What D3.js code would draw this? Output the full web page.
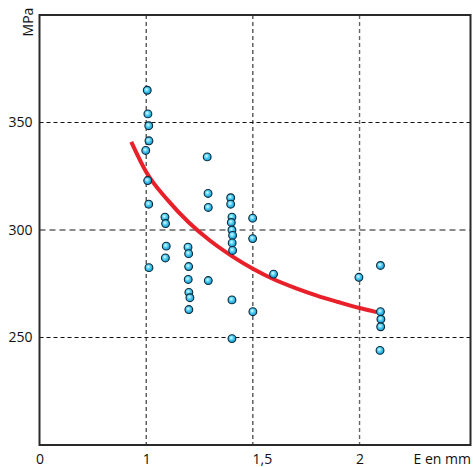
<!DOCTYPE html>
<html>
<head>
<meta charset="utf-8">
<script src="https://cdn.jsdelivr.net/npm/d3@7"></script>
<style>
  body { margin: 0; background: #fff; }
  text { font-family: "Open Sans", sans-serif; }
</style>
</head>
<body>
<div id="chart"></div>
<script>
// axis ticks (origin is labelled "0")
const xTicks = [0.5, 1, 1.5, 2];
const xTickLabels = ['0', '1', '1,5', '2'];
const yTicks = [250, 300, 350];
const yTickLabels = ['250', '300', '350'];

// measured points: thickness E (mm) and stress (MPa)
const thickness = [
  1.005, 1.008, 1.012, 1.013, 0.998, 1.007, 1.012, 1.013,
  1.088, 1.091, 1.094, 1.09,
  1.196, 1.199, 1.199, 1.197, 1.2, 1.205, 1.2,
  1.286, 1.29, 1.291, 1.291,
  1.396, 1.396, 1.402, 1.399, 1.402, 1.405, 1.403, 1.405, 1.402, 1.402,
  1.499, 1.499, 1.5,
  1.597,
  1.997,
  2.098, 2.098, 2.1, 2.099, 2.096
];
const stress = [
  365, 354, 348.5, 341.5, 337, 323, 312, 282.5,
  306, 303, 292.5, 287,
  292, 289, 283, 277, 271, 268.5, 263,
  334, 317, 310.5, 276.5,
  315, 312, 306, 303.5, 300, 297.5, 294, 290.5, 267.5, 249.5,
  305.5, 296, 262,
  279.5,
  278,
  283.5, 262, 258.5, 255, 244
];

// red trend curve
const trendE = [0.93, 1.0, 1.1, 1.2, 1.3, 1.4, 1.5, 1.6, 1.7, 1.8, 1.9, 2.0, 2.08];
const trendMPa = [341, 327, 314, 303.5, 295, 288, 282, 277, 273, 269.5, 266.5, 263.7, 261.8];

const width = 473, height = 467;
const plot = { left: 39.5, right: 470.5, top: 15, bottom: 445 };

const svg = d3.select('#chart').append('svg')
  .attr('width', width)
  .attr('height', height);

const x = d3.scaleLinear().domain([0.5, 2.52]).range([plot.left, plot.right]);
const y = d3.scaleLinear().domain([200, 400]).range([plot.bottom, plot.top]);

const defs = svg.append('defs');
const grad = defs.append('radialGradient')
  .attr('id', 'dot')
  .attr('cx', '42%').attr('cy', '40%').attr('r', '60%');
grad.append('stop').attr('offset', '0%').attr('stop-color', '#e6fbff');
grad.append('stop').attr('offset', '45%').attr('stop-color', '#4fd0f5');
grad.append('stop').attr('offset', '100%').attr('stop-color', '#1596cf');

// grid lines - the 300 and 2 lines are grey in the original
const grey = v => v === 300 || v === 2;

svg.append('g')
  .selectAll('line')
  .data(xTicks.filter(d => d > 0.5))
  .enter()
  .append('line')
  .attr('x1', d => x(d)).attr('x2', d => x(d))
  .attr('y1', plot.top).attr('y2', plot.bottom)
  .style('stroke', d => (grey(d) ? '#666' : '#111'))
  .style('stroke-width', d => (grey(d) ? 1.4 : 1))
  .style('stroke-dasharray', '4,3');

svg.append('g')
  .selectAll('line')
  .data(yTicks)
  .enter()
  .append('line')
  .attr('x1', plot.left).attr('x2', plot.right)
  .attr('y1', d => y(d)).attr('y2', d => y(d))
  .style('stroke', d => (grey(d) ? '#666' : '#111'))
  .style('stroke-width', d => (grey(d) ? 1.6 : 1))
  .style('stroke-dasharray', d => (grey(d) ? '6,4' : '4,3'));

// frame
svg.append('rect')
  .attr('x', plot.left).attr('y', plot.top)
  .attr('width', plot.right - plot.left).attr('height', plot.bottom - plot.top)
  .style('fill', 'none')
  .style('stroke', '#2a2a2a')
  .style('stroke-width', 2);

// axes (labels only)
const xAxis = d3.axisBottom(x)
  .tickValues(xTicks)
  .tickSize(0)
  .tickPadding(9)
  .tickFormat((d, i) => xTickLabels[i]);

const gx = svg.append('g')
  .attr('transform', `translate(0,${plot.bottom})`)
  .call(xAxis);
gx.select('.domain').remove();
gx.selectAll('text')
  .style('font-size', '14px')
  .style('font-family', '"Open Sans", sans-serif')
  .style('fill', '#111')
  .attr('dx', (d, i) => (xTickLabels[i] === '1,5' ? 9 : 0));

const yAxis = d3.axisLeft(y)
  .tickValues(yTicks)
  .tickSize(0)
  .tickPadding(7)
  .tickFormat((d, i) => yTickLabels[i]);

const gy = svg.append('g')
  .attr('transform', `translate(${plot.left},0)`)
  .call(yAxis);
gy.select('.domain').remove();
gy.selectAll('text')
  .style('font-size', '14px')
  .style('font-family', '"Open Sans", sans-serif')
  .style('fill', '#111');

// axis titles
svg.append('text')
  .attr('transform', 'translate(33,22) rotate(-90)')
  .attr('text-anchor', 'middle')
  .style('font-size', '14px')
  .style('fill', '#111')
  .text('MPa');

svg.append('text')
  .attr('x', 471)
  .attr('y', 464)
  .attr('text-anchor', 'end')
  .style('font-size', '14px')
  .style('fill', '#111')
  .text('E en mm');

// trend curve
const line = d3.line()
  .x(i => x(trendE[i]))
  .y(i => y(trendMPa[i]))
  .curve(d3.curveMonotoneX);

svg.append('path')
  .attr('d', line(d3.range(trendE.length)))
  .style('fill', 'none')
  .style('stroke', '#e8202a')
  .style('stroke-width', 4);

// points
svg.append('g')
  .selectAll('circle')
  .data(d3.range(thickness.length))
  .enter()
  .append('circle')
  .attr('cx', i => x(thickness[i]))
  .attr('cy', i => y(stress[i]))
  .attr('r', 3.9)
  .style('fill', 'url(#dot)')
  .style('stroke', '#0d2a3a')
  .style('stroke-width', 1.1);
</script>
</body>
</html>
